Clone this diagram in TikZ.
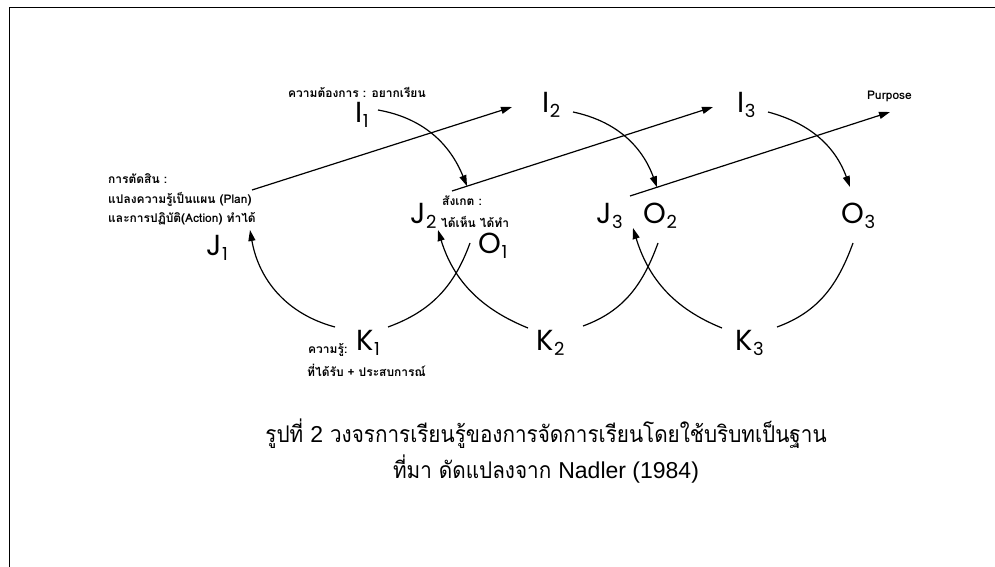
\documentclass[tikz,border=0pt]{standalone}
\usepackage{fontspec}
\newfontfamily\thaifont[Script=Thai]{Loma}
\newfontfamily\capfont[Script=Thai,FakeStretch=0.9]{Loma}
\newfontfamily\latinfont{Liberation Sans}
\newfontfamily\letterfont{Poppins}
\usetikzlibrary{arrows.meta,calc}

% ตัวอักษรพร้อมตัวห้อย
\newcommand{\lsub}[2]{#1\kern0.5pt\raisebox{-5pt}{\fontsize{18}{18}\selectfont #2}}

\tikzset{
  cyclelabel/.style={font=\letterfont\fontsize{29}{29}\selectfont, inner sep=0pt, anchor=base west},
  thainote/.style={font=\thaifont\bfseries\fontsize{12}{14}\selectfont, inner sep=0pt, anchor=base west},
  captiontext/.style={font=\capfont\fontsize{23}{26}\selectfont, inner sep=0pt, anchor=base},
  loopline/.style={line width=1.2pt},
  arrowline/.style={-{Triangle[length=11pt,width=7pt]}},
}

\begin{document}
\begin{tikzpicture}[x=1pt,y=1pt]
	\useasboundingbox (0,0) rectangle (995,-567);
	
	% กรอบ
	\draw[line width=1.5pt] (9.5,-567) -- (9.5,-7.5) -- (995,-7.5);
	
	% ตัวอักษร I J O K
	\node[cyclelabel] (I1) at (355,-123) {\lsub{I}{1}};
	\node[cyclelabel] (I2) at (542,-113) {\lsub{I}{2}};
	\node[cyclelabel] (I3) at (737,-113) {\lsub{I}{3}};
	\node[cyclelabel] (J1) at (206,-255) {\lsub{J}{1}};
	\node[cyclelabel] (J2) at (410,-223) {\lsub{J}{2}};
	\node[cyclelabel] (J3) at (596,-223) {\lsub{J}{3}};
	\node[cyclelabel] (O1) at (478,-253) {\lsub{O}{1}};
	\node[cyclelabel] (O2) at (643,-223) {\lsub{O}{2}};
	\node[cyclelabel] (O3) at (841,-223) {\lsub{O}{3}};
	\node[cyclelabel] (K1) at (356,-350) {\lsub{K}{1}};
	\node[cyclelabel] (K2) at (536,-350) {\lsub{K}{2}};
	\node[cyclelabel] (K3) at (735,-350) {\lsub{K}{3}};
	
	% จุดปลายเส้น
	\coordinate (s1) at (252,-190); \coordinate (e1) at (512,-107);
	\coordinate (s2) at (452,-191); \coordinate (e2) at (713,-107);
	\coordinate (s3) at (630,-196); \coordinate (e3) at (890,-112);
	\coordinate (t2) at ($(s2)!0.0575!(e2)$);
	\coordinate (t3) at ($(s3)!0.104!(e3)$);
	\coordinate (iA) at (378,-110);
	\coordinate (iB) at (573,-112);
	\coordinate (iC) at (768,-112);
	\coordinate (oC) at (850,-187);
	\coordinate (kAl) at (335,-327); \coordinate (kAr) at (388,-327);
	\coordinate (kBl) at (528,-328); \coordinate (kBr) at (583,-326);
	\coordinate (kCl) at (722,-328); \coordinate (kCr) at (777,-327);
	\coordinate (jA) at (250,-230);
	\coordinate (jB) at (438,-230);
	\coordinate (jC) at (633,-228);
	\coordinate (oA) at (470,-243);
	\coordinate (oB) at (658,-243);
	\coordinate (oD) at (853,-243);
	
	% เส้นตรงไปสู่ Purpose
	\draw[loopline,arrowline] (s1) -- (e1);
	\draw[loopline,arrowline] (s2) -- (e2);
	\draw[loopline,arrowline] (s3) -- (e3);
	
	% เส้นโค้งจาก I
	\draw[loopline,arrowline] (iA) to[out=-10,in=112] (t2);
	\draw[loopline,arrowline] (iB) to[out=-12,in=110] (t3);
	\draw[loopline,arrowline] (iC) to[out=-15,in=110] (oC);
	
	% เส้นโค้งจาก K
	\draw[loopline,arrowline] (kAl) to[out=165,in=-80] (jA);
	\draw[loopline] (kAr) to[out=20,in=-110] (oA);
	\draw[loopline,arrowline] (kBl) to[out=158,in=-73] (jB);
	\draw[loopline] (kBr) to[out=20,in=-110] (oB);
	\draw[loopline,arrowline] (kCl) to[out=158,in=-73] (jC);
	\draw[loopline] (kCr) to[out=20,in=-110] (oD);
	
	% ข้อความกำกับ
	\node[thainote] (need) at (288,-98) {ความต้องการ : อยากเรียน};
	\node[thainote] (judge1) at (108,-183) {การตัดสิน :};
	\node[thainote] (judge2) at (108,-203) {แปลงความรู้เป็นแผน (Plan)};
	\node[thainote] (judge3) at (108,-222) {และการปฏิบัติ(Action) ทำได้};
	\node[thainote] (obs1) at (442,-205) {สังเกต :};
	\node[thainote] (obs2) at (441,-227) {ได้เห็น ได้ทำ};
	\node[thainote] (know1) at (308,-353) {ความรู้:};
	\node[thainote] (know2) at (307,-376) {ที่ได้รับ + ประสบการณ์};
	\node[thainote] (purpose) at (867,-100) {Purpose};
	
	% คำบรรยายภาพ
	\node[captiontext] (cap1) at (546,-442) {รูปที่ {\latinfont 2} วงจรการเรียนรู้ของการจัดการเรียนโดยใช้บริบทเป็นฐาน};
	\node[captiontext] (cap2) at (546,-478) {ที่มา ดัดแปลงจาก {\latinfont Nadler (1984)}};
	
\end{tikzpicture}
\end{document}
